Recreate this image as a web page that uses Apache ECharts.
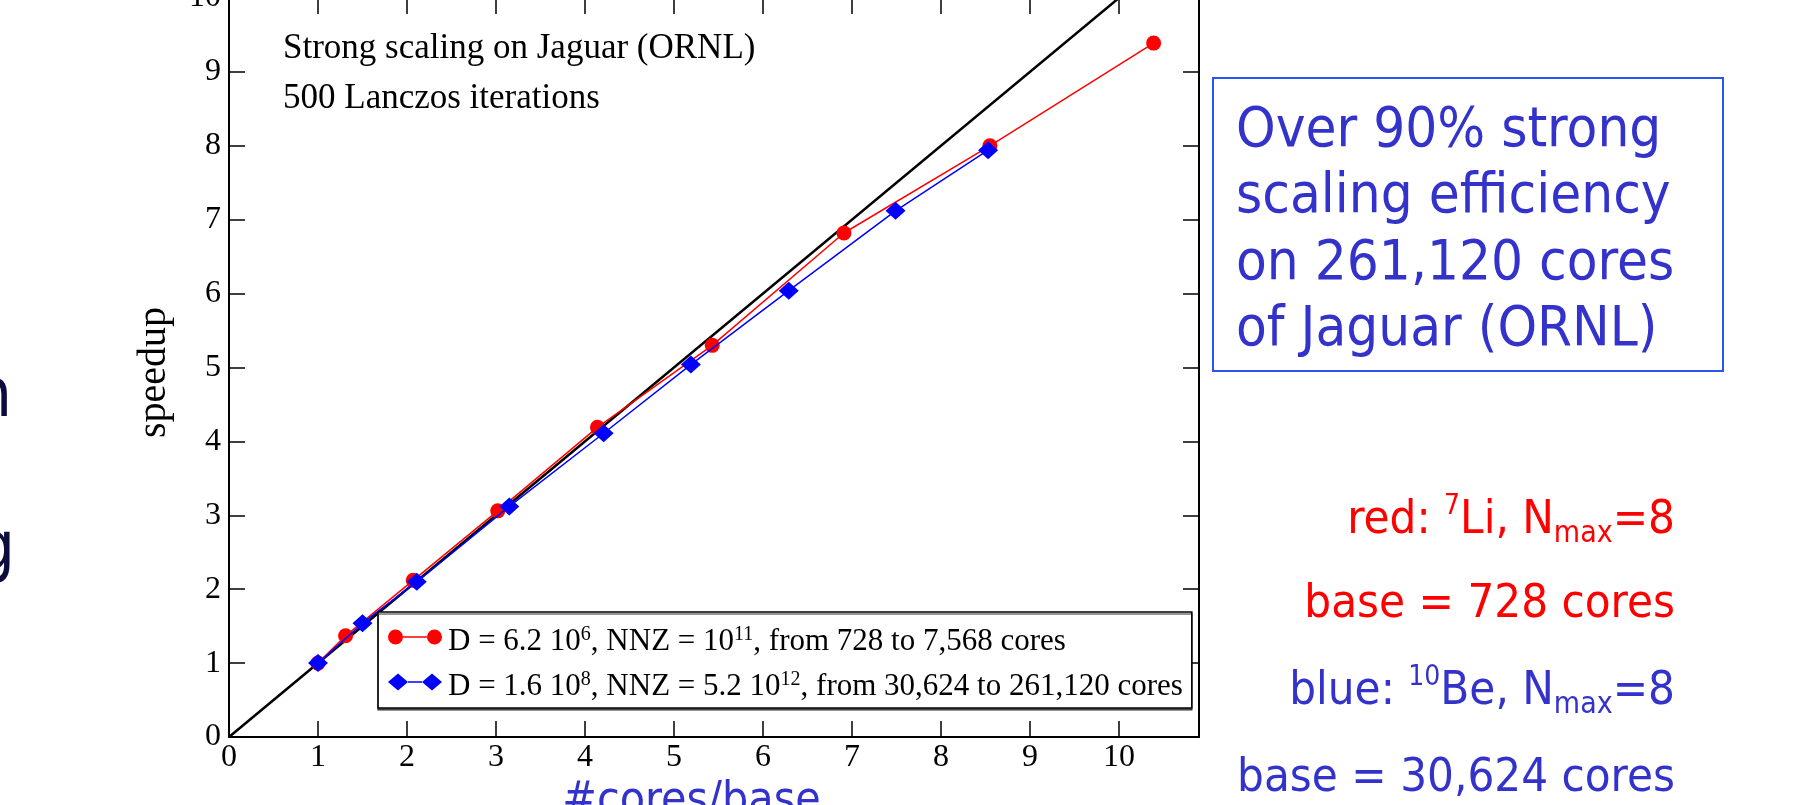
<!DOCTYPE html>
<html><head><meta charset="utf-8">
<script src="https://cdn.jsdelivr.net/npm/echarts@6/dist/echarts.min.js"></script>
<style>html,body{margin:0;padding:0;background:#fff;overflow:hidden}#c{width:1798px;height:805px}</style>
</head><body><div id="c"></div>
<script>
// ---- data ----
const redX  = [1, 1.31, 2.07, 3.02, 4.14, 5.43, 6.91, 8.55, 10.39];
const redY  = [1, 1.37, 2.12, 3.06, 4.19, 5.30, 6.82, 8.00, 9.39];
const blueX = [1, 1.50, 2.11, 3.15, 4.21, 5.19, 6.29, 7.49, 8.53];
const blueY = [1, 1.54, 2.10, 3.12, 4.11, 5.04, 6.04, 7.12, 7.94];
const idealX = [0, 10];
const idealY = [0, 10];
const xRange = [0, 10.9];
const yRange = [0, 10];
const tickStep = 1;
const legendNames = [
  'D = 6.2 10^6, NNZ = 10^11, from 728 to 7,568 cores',
  'D = 1.6 10^8, NNZ = 5.2 10^12, from 30,624 to 261,120 cores'
];
const xName = '#cores/base';
const yName = 'speedup';
const noteLines = ['Strong scaling on Jaguar (ORNL)', '500 Lanczos iterations'];
const boxLines = ['Over 90% strong', 'scaling efficiency', 'on 261,120 cores', 'of Jaguar (ORNL)'];

const SERIF = "'Liberation Serif', 'Times New Roman', serif";
const SANS = "'DejaVu Sans Condensed', 'DejaVu Sans', sans-serif";
const BLUE_TXT = '#3333cc';

const zip = (a, b) => a.map((v, i) => [v, b[i]]);

const chart = echarts.init(document.getElementById('c'), null, {renderer: 'canvas'});

const axisCommon = {
  type: 'value', min: 0, interval: tickStep,
  axisLine: {show: true, onZero: false, lineStyle: {color: '#000', width: 2}},
  axisTick: {show: true, inside: true, length: 16, lineStyle: {color: '#000', width: 1.5}},
  splitLine: {show: false}
};

const slideRich = {
  m: {fontSize: 47, lineHeight: 56, fontFamily: SANS},
  s: {fontSize: 28, lineHeight: 36, verticalAlign: 'top', fontFamily: SANS},
  b: {fontSize: 30, lineHeight: 20, verticalAlign: 'bottom', fontFamily: SANS}
};
function slideText(txt, y, color) {
  return {
    type: 'text', z: 100,
    style: {
      text: txt, x: 1675, y: y, fill: color,
      align: 'right', textAlign: 'right', verticalAlign: 'top', textVerticalAlign: 'top',
      fontSize: 47, fontFamily: SANS, rich: slideRich
    }
  };
}

const option = {
  animation: false,
  backgroundColor: '#fff',
  grid: {left: 229, right: 599, top: -2, bottom: 68, containLabel: false, outerBoundsMode: 'none'},
  xAxis: [
    Object.assign({}, axisCommon, {
      position: 'bottom', max: xRange[1],
      name: xName, nameLocation: 'middle', nameGap: 42,
      nameTextStyle: {fontSize: 46, fontFamily: SANS, color: BLUE_TXT, padding: [0, 45, 0, 0]},
      axisLabel: {show: true, fontSize: 32, fontFamily: SERIF, color: '#000', margin: 5, showMaxLabel: false}
    }),
    Object.assign({}, axisCommon, {position: 'top', max: xRange[1], axisLabel: {show: false}})
  ],
  yAxis: [
    Object.assign({}, axisCommon, {
      position: 'left', max: yRange[1],
      name: yName, nameLocation: 'middle', nameGap: 55,
      nameTextStyle: {fontSize: 40, fontFamily: SERIF, color: '#000', padding: [0, 10, 0, 0]},
      axisLabel: {show: true, fontSize: 32, fontFamily: SERIF, color: '#000', margin: 8}
    }),
    Object.assign({}, axisCommon, {position: 'right', max: yRange[1], axisLabel: {show: false}})
  ],
  legend: {
    data: [
      {name: legendNames[0], icon: 'path://M0,8.5 A7.5,7.5 0 1 1 15,8.5 A7.5,7.5 0 1 1 0,8.5 Z M39,8.5 A7.5,7.5 0 1 1 54,8.5 A7.5,7.5 0 1 1 39,8.5 Z M15,7.75 L39,7.75 L39,9.25 L15,9.25 Z M0,0 Z M54,17 Z'},
      {name: legendNames[1], icon: 'path://M0,8.5 L10,0 L20,8.5 L10,17 Z M34,8.5 L44,0 L54,8.5 L44,17 Z M20,7.75 L34,7.75 L34,9.25 L20,9.25 Z'}
    ],
    orient: 'vertical', left: 378, top: 612,
    itemWidth: 54, itemHeight: 17, itemGap: 1,
    padding: [3, 9, 4, 10],
    borderColor: '#000', borderWidth: 1.5, backgroundColor: '#fff',
    shadowColor: 'rgba(0,0,0,0.55)', shadowOffsetX: 0, shadowOffsetY: 2, shadowBlur: 0,
    selectedMode: false,
    formatter: n => n.replace(/\^(\d+)/g, '{s|$1}'),
    textStyle: {
      fontFamily: SERIF, fontSize: 31, lineHeight: 34, color: '#000', padding: [10, 0, 0, 1],
      rich: {s: {fontFamily: SERIF, fontSize: 20, lineHeight: 1, verticalAlign: 'top', color: '#000'}}
    }
  },
  series: [
    {
      name: 'ideal', type: 'line', xAxisIndex: 0, yAxisIndex: 0, z: 1,
      data: zip(idealX, idealY), symbol: 'none', silent: true,
      lineStyle: {color: '#000', width: 2.5}
    },
    {
      name: legendNames[0], type: 'line', xAxisIndex: 0, yAxisIndex: 0, z: 2,
      data: zip(redX, redY), symbol: 'circle', symbolSize: 15,
      itemStyle: {color: '#ff0000'}, lineStyle: {color: '#ff0000', width: 1.5}
    },
    {
      name: legendNames[1], type: 'line', xAxisIndex: 0, yAxisIndex: 0, z: 3,
      data: zip(blueX, blueY), symbol: 'diamond', symbolSize: [20, 18],
      itemStyle: {color: '#0000ff'}, lineStyle: {color: '#0000ff', width: 1.5}
    }
  ],
  graphic: [
    {
      type: 'text', z: 100,
      style: {text: noteLines.join('\n'), x: 283, y: 23.5, fill: '#000', fontSize: 35, lineHeight: 50,
        fontFamily: SERIF, align: 'left', textAlign: 'left', verticalAlign: 'top', textVerticalAlign: 'top'}
    },
    {
      type: 'rect', z: 100,
      shape: {x: 1213, y: 78, width: 510, height: 293},
      style: {fill: 'none', stroke: '#2a52f5', lineWidth: 2}
    },
    {
      type: 'text', z: 100,
      style: {text: boxLines.join('\n'), x: 1236, y: 98.5, fill: BLUE_TXT, fontSize: 56, lineHeight: 66.3,
        fontFamily: SANS, align: 'left', textAlign: 'left', verticalAlign: 'top', textVerticalAlign: 'top'}
    },
    slideText('{m|red: }{s|7}{m|Li, N}{b|max}{m|=8}', 493, '#ff0000'),
    slideText('{m|base = 728 cores}', 577, '#ff0000'),
    slideText('{m|blue: }{s|10}{m|Be, N}{b|max}{m|=8}', 664, BLUE_TXT),
    slideText('{m|base = 30,624 cores}', 751, BLUE_TXT),
    {
      type: 'text', z: 100,
      style: {text: 'n', x: 12, y: 364.5, fill: '#0d0d3d', fontSize: 68, fontFamily: SANS,
        align: 'right', textAlign: 'right', verticalAlign: 'top', textVerticalAlign: 'top'}
    },
    {
      type: 'text', z: 100,
      style: {text: 'g', x: 15, y: 517.5, fill: '#0d0d3d', fontSize: 68, fontFamily: SANS,
        align: 'right', textAlign: 'right', verticalAlign: 'top', textVerticalAlign: 'top'}
    }
  ]
};
chart.setOption(option);
</script>
</body></html>
